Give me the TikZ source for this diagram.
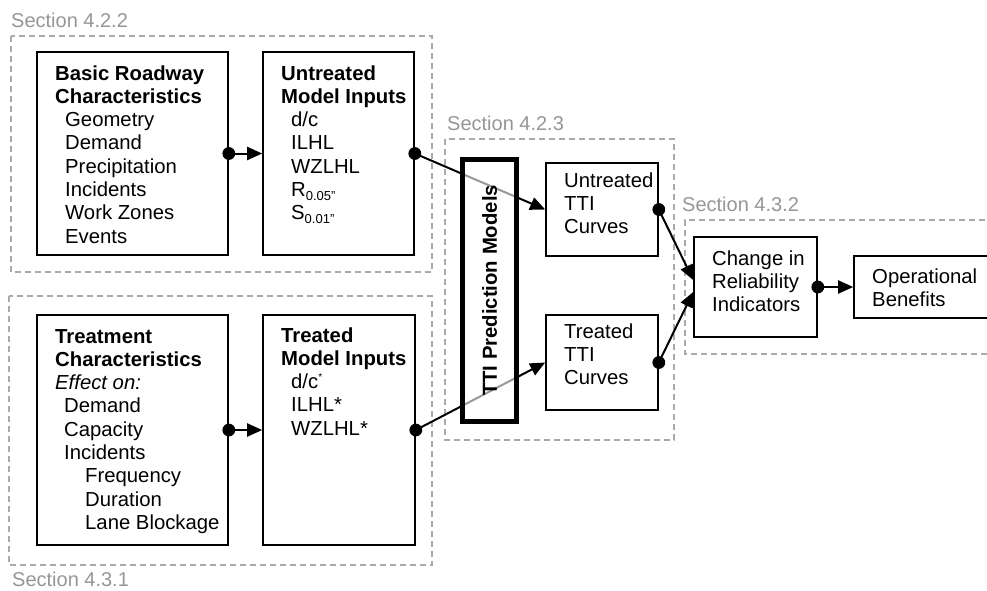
\documentclass[tikz,border=0pt]{standalone}
\usepackage{fontspec}
\setmainfont{Liberation Sans}
\usetikzlibrary{arrows.meta,calc}
\definecolor{secgray}{RGB}{150,150,150}
\definecolor{dashgray}{RGB}{170,170,170}
\newcommand{\lines}[1]{\begin{tabular}[t]{@{}l@{}}#1\end{tabular}}
\begin{document}
\begin{tikzpicture}[x=1pt,y=-1pt,
  box/.style={draw=black,line width=1.6pt,fill=white,inner sep=0pt},
  txt/.style={anchor=base west,inner sep=0pt,font=\fontsize{20.3pt}{23.3pt}\selectfont},
  sec/.style={anchor=base west,inner sep=0pt,text=secgray,font=\fontsize{20pt}{23pt}\selectfont},
  secbox/.style={draw=dashgray,line width=1.3pt,dash pattern=on 6pt off 4pt},
  conn/.style={line width=2pt,-{Triangle[length=15pt,width=13pt]}},
  dotstyle/.style={fill=black}
]
\useasboundingbox (0,0) rectangle (987,590);

% section frames
\draw[secbox] (11,36) rectangle (432,272);
\draw[secbox] (9,296) rectangle (432,565);
\draw[secbox] (445,139) rectangle (674,440);
\draw[secbox] (995,220) -- (685,220) -- (685,354) -- (995,354);

\node[sec] (s1) at (11,27) {Section 4.2.2};
\node[sec] (s2) at (12,586) {Section 4.3.1};
\node[sec] (s3) at (447,130) {Section 4.2.3};
\node[sec] (s4) at (682,211) {Section 4.3.2};

% boxes
\node[box,minimum width=191pt,minimum height=203pt] (A) at (132.5,153.5) {};
\node[box,minimum width=151pt,minimum height=203pt] (B) at (338.5,153.5) {};
\node[box,minimum width=191pt,minimum height=230pt] (C) at (132.5,430) {};
\node[box,minimum width=152pt,minimum height=230pt] (D) at (339,430) {};
\node[box,minimum width=112pt,minimum height=93pt] (UT) at (602,209.5) {};
\node[box,minimum width=112pt,minimum height=95pt] (TT) at (602,362.5) {};
\node[box,minimum width=123pt,minimum height=100pt] (CH) at (755.5,287) {};
\node[box,minimum width=134pt,minimum height=62pt] (OB) at (921,287) {};

% box texts
\node[txt] (At) at (55,80) {\lines{\textbf{Basic Roadway}\\\textbf{Characteristics}\\
  \hspace*{10pt}Geometry\\\hspace*{10pt}Demand\\\hspace*{10pt}Precipitation\\
  \hspace*{10pt}Incidents\\\hspace*{10pt}Work Zones\\\hspace*{10pt}Events}};
\node[txt] (Bt) at (281,80) {\lines{\textbf{Untreated}\\\textbf{Model Inputs}\\
  \hspace*{10pt}d/c\\\hspace*{10pt}ILHL\\\hspace*{10pt}WZLHL\\
  \hspace*{10pt}R\raisebox{-4pt}{\fontsize{13pt}{13pt}\selectfont 0.05"}\\
  \hspace*{10pt}S\raisebox{-4pt}{\fontsize{13pt}{13pt}\selectfont 0.01"}}};
\node[txt] (Ct) at (55,343) {\lines{\textbf{Treatment}\\\textbf{Characteristics}\\
  \textit{Effect on:}\\\hspace*{9pt}Demand\\\hspace*{9pt}Capacity\\\hspace*{9pt}Incidents\\
  \hspace*{30pt}Frequency\\\hspace*{30pt}Duration\\\hspace*{30pt}Lane Blockage}};
\node[txt] (Dt) at (281,342) {\lines{\textbf{Treated}\\\textbf{Model Inputs}\\
  \hspace*{10pt}d/c\raisebox{8pt}{\fontsize{10pt}{10pt}\selectfont *}\\\hspace*{10pt}ILHL*\\\hspace*{10pt}WZLHL*}};
\node[txt] (UTt) at (564,187) {\lines{Untreated\\TTI\\Curves}};
\node[txt] (TTt) at (564,338) {\lines{Treated\\TTI\\Curves}};
\node[txt] (CHt) at (712,265) {\lines{Change in\\Reliability\\Indicators}};
\node[txt] (OBt) at (872,283) {\lines{Operational\\Benefits}};

% connectors
\draw[conn] (A.east) -- (B.west);
\draw[conn] (C.east) -- (D.west);
\draw[conn] (B.east) -- (UT.west);
\draw[conn] (D.east) -- (TT.west);
\draw[conn] (UT.east) -- ($(CH.west)+(0,-7)$);
\draw[conn] (TT.east) -- ($(CH.west)+(0,5)$);
\draw[conn] (CH.east) -- (OB.west);

% TTI prediction box (semi-transparent over crossing connectors)
\node[draw=black,line width=5pt,fill=white,fill opacity=0.6,text opacity=1,
  minimum width=54pt,minimum height=262pt,inner sep=0pt] (TTI) at (489.5,290.5) {};
\node[rotate=90,inner sep=0pt,font=\fontsize{20.3pt}{23.3pt}\selectfont\bfseries] (TTIt) at (TTI.center) {TTI Prediction Models};

% dots
\fill[dotstyle] (A.east) circle (6.4pt);
\fill[dotstyle] (C.east) circle (6.4pt);
\fill[dotstyle] (B.east) circle (6.4pt);
\fill[dotstyle] (D.east) circle (6.4pt);
\fill[dotstyle] (UT.east) circle (6.4pt);
\fill[dotstyle] (TT.east) circle (6.4pt);
\fill[dotstyle] (CH.east) circle (6.4pt);
\end{tikzpicture}
\end{document}
